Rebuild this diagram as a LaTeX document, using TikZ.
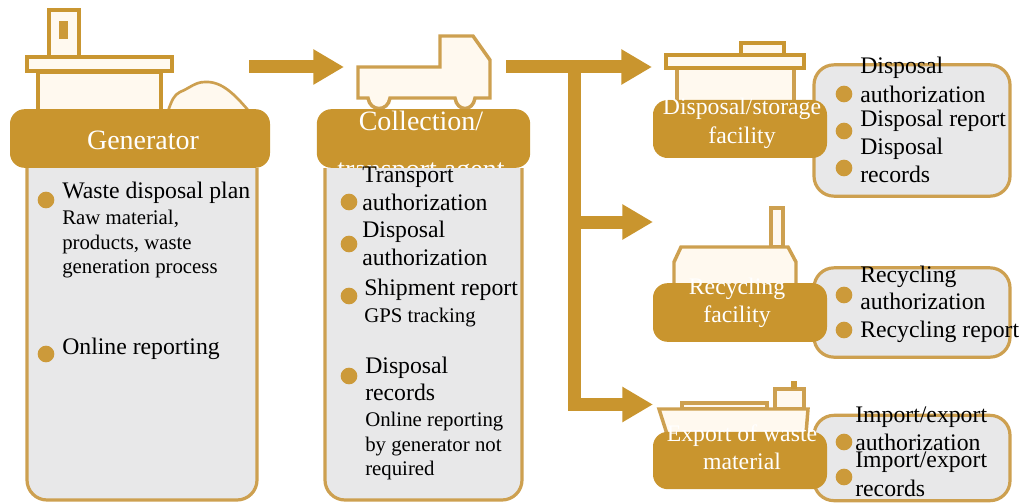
\documentclass[tikz,border=0pt]{standalone}
\usepackage{fontspec}
\setmainfont{Liberation Serif}
\usetikzlibrary{arrows.meta}
\definecolor{gold}{HTML}{C9952E}
\definecolor{edge}{HTML}{CDA050}
\definecolor{panel}{HTML}{E8E8E9}
\definecolor{cream}{HTML}{FFF9EF}
\definecolor{dotc}{HTML}{CC9A3A}
\tikzset{
  x=0.75pt,y=-0.75pt,
  flow/.style={draw=gold,line width=9.75pt,line join=miter,-{Triangle[length=23pt,width=25pt]}},
  header/.style={fill=gold,rounded corners=11pt,inner sep=0pt},
  bodybox/.style={draw=edge,fill=panel,line width=2.4pt,inner sep=0pt},
  sidebox/.style={bodybox,rounded corners=15pt},
  icon/.style={draw=edge,fill=cream,line width=2.6pt},
  iconbold/.style={draw=gold!90!edge,fill=cream,line width=3pt},
  dotmark/.style={circle,fill=dotc,minimum size=12.5pt,inner sep=0pt},
  bigtext/.style={anchor=base west,inner sep=0pt,align=left,font=\fontsize{17.8}{20.6}\selectfont,text=black},
  smalltext/.style={anchor=base west,inner sep=0pt,align=left,font=\fontsize{15.6}{18.5}\selectfont,text=black},
  headtext/.style={anchor=base,inner sep=0pt,align=center,text=white,font=\fontsize{#1}{21}\selectfont},
}
\begin{document}
\begin{tikzpicture}
\useasboundingbox (0,0) rectangle (1022,503);
% ---- icons
\draw[iconbold] (49,57) rectangle (79,10);
\fill[dotc] (59,21) rectangle (68,39);
\draw[iconbold] (38,72) rectangle (161,112);
\draw[iconbold] (27,57) rectangle (172,71);
\draw[icon,line width=2pt] (168,111) .. controls (172,100) and (174,95) .. (180,92) .. controls (190,88) and (195,82) .. (205,82) .. controls (222,81) and (235,95) .. (248,110);
\draw[icon] (358,67) -- (440,67) -- (440,36) -- (473,36) -- (490,60) -- (490,98) -- (475,98)
  .. controls (473,112) and (457,112) .. (455,98) -- (390,98)
  .. controls (388,112) and (370,112) .. (368,98) -- (358,98) -- cycle;
\draw[icon] (677,68) rectangle (794,102);
\draw[iconbold] (741,55) rectangle (784,43);
\draw[iconbold] (666,55) rectangle (804,68);
\draw[icon] (771,247) rectangle (783,208);
\draw[icon] (674,285) -- (674,262) -- (681,247) -- (788,247) -- (796,262) -- (796,285);
\draw[icon] (682,409) rectangle (767,403);
\draw[icon] (775,409) rectangle (804,389);
\fill[dotc] (791,389) rectangle (797,381);
\draw[icon] (659,409) -- (808,409) -- (806,434) -- (667,434) -- cycle;
% ---- connectors
\coordinate (a1) at (249,67); \coordinate (a2) at (344,67);
\coordinate (b1) at (506,67); \coordinate (b2) at (652,67);
\coordinate (j1) at (574,67); \coordinate (j2) at (574,222); \coordinate (j3) at (574,404.5);
\coordinate (c2) at (653,222); \coordinate (d2) at (653,404.5);
\draw[flow] (a1) -- (a2);
\draw[flow] (b1) -- (b2);
\draw[flow] (j2) -- (c2);
\draw[flow] (j1) -- (j3) -- (d2);
% ---- side panels
\node[sidebox,minimum width=147pt,minimum height=98.5pt] (dsp) at (912,130.5) {};
\node[sidebox,minimum width=147pt,minimum height=67pt] (rcp) at (912,312.5) {};
\node[sidebox,minimum width=147pt,minimum height=64pt] (exp) at (912,458) {};
% ---- headers
\node[header,minimum width=195pt,minimum height=44pt] (gen) at (140,138.5) {};
\node[header,minimum width=160pt,minimum height=44pt] (col) at (423.5,138.5) {};
\node[header,minimum width=130.5pt,minimum height=43.5pt] (dsh) at (740,129) {};
\node[header,minimum width=130.5pt,minimum height=44pt] (rch) at (740,312.5) {};
\node[header,minimum width=130.5pt,minimum height=43pt] (exh) at (740,460.5) {};
\node[headtext=21] (gent) at (143,149.5) {Generator};
\node[headtext=21,anchor=north] (colt) at (421,110.5) {Collection/\\[15pt]transport agent};
\node[headtext=17.8] (dst) at (742,114) {Disposal/storage};
\node[headtext=17.8] (dst2) at (742,143) {facility};
\node[headtext=17.8] (rct) at (737,294) {Recycling};
\node[headtext=17.8] (rct2) at (737,322) {facility};
\node[headtext=17.8] (ext) at (742,441) {Export of waste};
\node[headtext=17.8] (ext2) at (742,469) {material};
% ---- bodies (drawn over the header texts; open at the top)
\path[bodybox,rounded corners=15pt] (27,168) -- (27,500) -- (257,500) -- (257,168);
\path[bodybox,rounded corners=15pt] (325,168) -- (325,500) -- (522,500) -- (522,168);
% ---- bullets
\foreach \n/\px/\py in {g1/46/200,g2/46/354,c1/349/202,c2b/349/244,c3/349/296,c4/349/376,
  d1/844/94,d2b/844/131,d3/844/168,r1/844/295,r2/844/330,e1/844/442,e2/844/477}
  \node[dotmark] (\n) at (\px,\py) {};
% ---- texts
\node[bigtext] (t1) at (62,198.5) {Waste disposal plan};
\node[smalltext] (t2) at (62,224) {Raw material,};
\node[smalltext] (t3) at (62,249) {products, waste};
\node[smalltext] (t4) at (62,273.5) {generation process};
\node[bigtext] (t5) at (62,354) {Online reporting};
\node[bigtext] (t6) at (362,182) {Transport};
\node[bigtext] (t7) at (362,210.5) {authorization};
\node[bigtext] (t8) at (362,237) {Disposal};
\node[bigtext] (t9) at (362,265) {authorization};
\node[bigtext] (t10) at (364,295) {Shipment report};
\node[smalltext] (t11) at (364,322) {GPS tracking};
\node[bigtext] (t12) at (365,373) {Disposal};
\node[bigtext] (t13) at (365,400) {records};
\node[smalltext] (t14) at (365,426) {Online reporting};
\node[smalltext] (t15) at (365,451) {by generator not};
\node[smalltext] (t16) at (365,475.5) {required};
\node[bigtext] (t17) at (860,74) {Disposal};
\node[bigtext] (t18) at (860,102.5) {authorization};
\node[bigtext] (t19) at (860,126.5) {Disposal report};
\node[bigtext] (t20) at (860,154.5) {Disposal};
\node[bigtext] (t21) at (860,182) {records};
\node[bigtext] (t22) at (860,282) {Recycling};
\node[bigtext] (t23) at (860,309) {authorization};
\node[bigtext] (t24) at (860,337) {Recycling report};
\node[bigtext] (t25) at (855,422) {Import/export};
\node[bigtext] (t26) at (855,450) {authorization};
\node[bigtext] (t27) at (855,467.5) {Import/export};
\node[bigtext] (t28) at (855,496) {records};
\end{tikzpicture}
\end{document}
